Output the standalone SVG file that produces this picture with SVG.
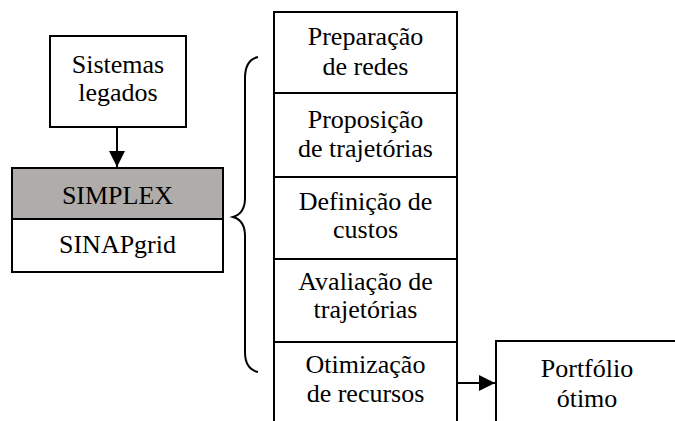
<svg xmlns="http://www.w3.org/2000/svg" width="675" height="421" viewBox="0 0 675 421">
<style>
.b{fill:#fff;stroke:#000;stroke-width:2}
text{font-family:'Liberation Serif','Times New Roman','DejaVu Serif',serif;font-size:26px;text-anchor:middle;fill:#000}
.c{fill:none;stroke:#000;stroke-width:2}
</style>
<defs>
<marker id="ah" viewBox="0 0 10 10" refX="10" refY="5" markerWidth="16" markerHeight="16" markerUnits="userSpaceOnUse" orient="auto">
<path d="M0,0 L10,5 L0,10 Z" fill="#000"/>
</marker>
</defs>
<rect width="675" height="421" fill="#fff"/>
<g id="legados">
<rect class="b" x="50" y="36" width="136" height="91"/>
<text x="118" y="73">Sistemas</text>
<text x="118" y="101">legados</text>
</g>
<g id="simplex">
<rect x="12" y="168" width="211" height="51" fill="#b0acaa" stroke="#000" stroke-width="2"/>
<text x="117.5" y="204">SIMPLEX</text>
</g>
<g id="sinapgrid">
<rect class="b" x="12" y="219" width="211" height="53"/>
<text x="117.5" y="253">SINAPgrid</text>
</g>
<g id="brace">
<path class="c" d="M258,57 C249,59 245,66 245,78 L245,198 C245,210 240,215 233,217 C240,219 245,224 245,236 L245,352 C245,364 249,370 258,372"/>
</g>
<g id="column">
<path class="c" d="M274,421 L274,12 L457,12 L457,421"/>
<line class="c" x1="274" y1="93" x2="457" y2="93"/>
<line class="c" x1="274" y1="177" x2="457" y2="177"/>
<line class="c" x1="274" y1="259" x2="457" y2="259"/>
<line class="c" x1="274" y1="342" x2="457" y2="342"/>
</g>
<g id="preparacao">
<text x="365.5" y="45">Preparação</text>
<text x="365.5" y="75">de redes</text>
</g>
<g id="proposicao">
<text x="365.5" y="128">Proposição</text>
<text x="365.5" y="157">de trajetórias</text>
</g>
<g id="definicao">
<text x="365.5" y="210">Definição de</text>
<text x="365.5" y="238">custos</text>
</g>
<g id="avaliacao">
<text x="365.5" y="290">Avaliação de</text>
<text x="365.5" y="318">trajetórias</text>
</g>
<g id="otimizacao">
<text x="365.5" y="373">Otimização</text>
<text x="365.5" y="402">de recursos</text>
</g>
<g id="portfolio">
<path class="c" d="M496,421 L496,341 L676,341"/>
<text x="587" y="377">Portfólio</text>
<text x="587" y="407">ótimo</text>
</g>
<g id="connectors">
<line class="c" x1="117" y1="127" x2="117" y2="167" marker-end="url(#ah)"/>
<line class="c" x1="457" y1="383" x2="495" y2="383" marker-end="url(#ah)"/>
</g>
</svg>
